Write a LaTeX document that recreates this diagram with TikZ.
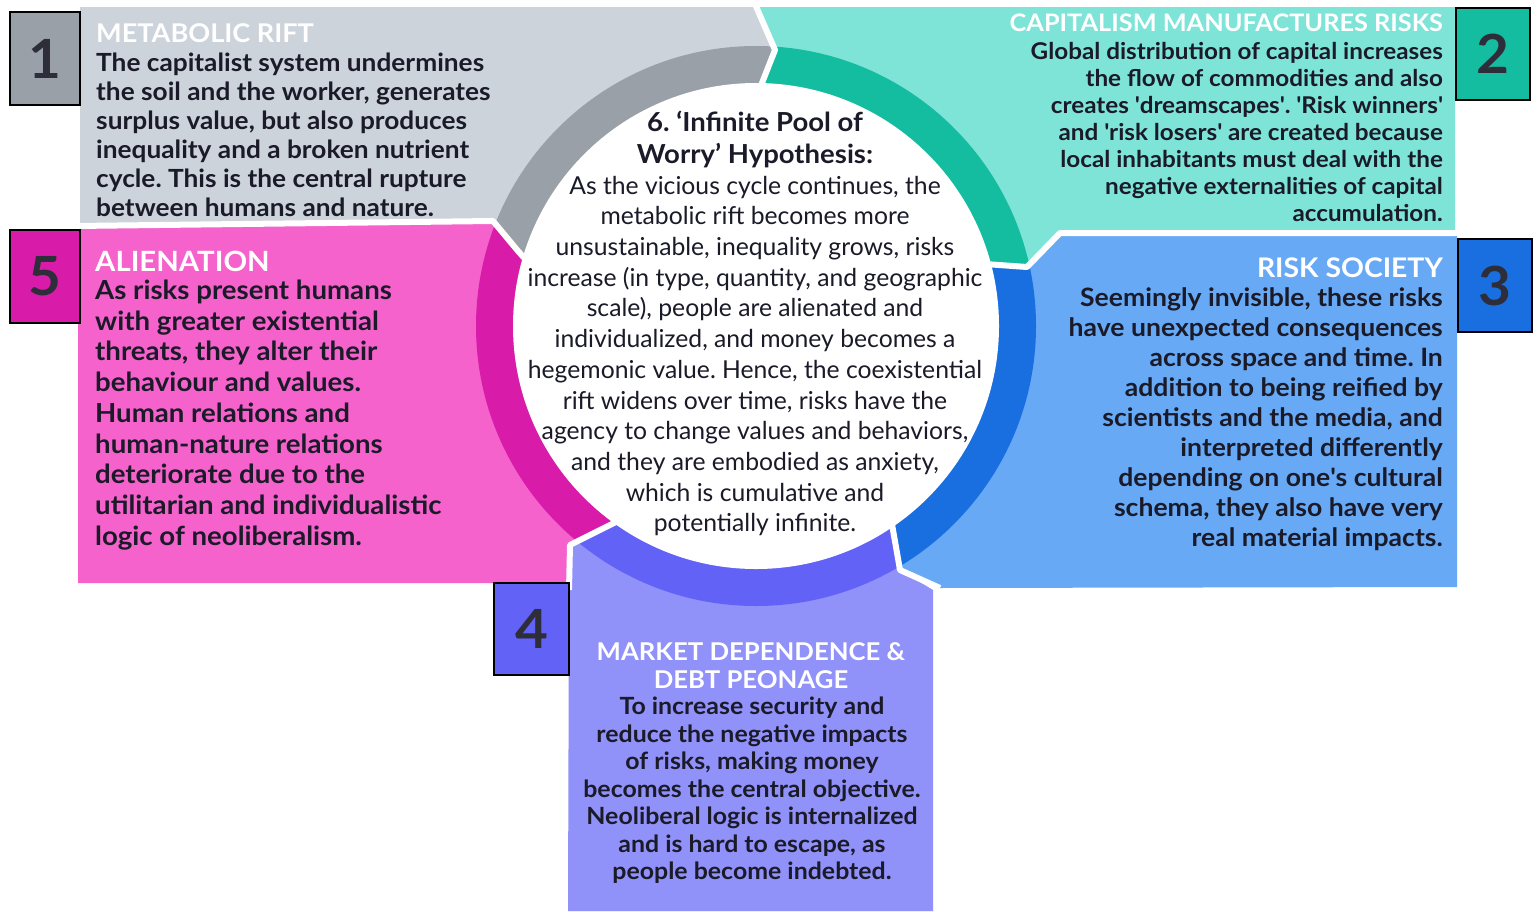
\documentclass[tikz,border=0pt]{standalone}
\usepackage{fontspec}
\setmainfont{Lato}
\newfontfamily\wfont[FakeStretch=1.05]{Lato}
\definecolor{grayP}{HTML}{CDD3DA}
\definecolor{grayR}{HTML}{9AA0A8}
\definecolor{tealP}{HTML}{7EE4D8}
\definecolor{tealR}{HTML}{14BCA0}
\definecolor{blueP}{HTML}{67A9F5}
\definecolor{blueR}{HTML}{1A6FE0}
\definecolor{purpP}{HTML}{9191FA}
\definecolor{purpR}{HTML}{6262F7}
\definecolor{magP}{HTML}{F562CC}
\definecolor{magR}{HTML}{D81BA8}
\definecolor{ink}{HTML}{1A1A28}
\definecolor{numink}{HTML}{2E2E3A}
\newcommand{\sqt}{\textquotesingle}
\newcommand{\fz}[2]{\fontsize{#1}{#2}\selectfont}
\frenchspacing
\begin{document}
\frenchspacing
\begin{tikzpicture}[x=1pt,y=-1pt,
  sep/.style={draw=white,line width=6pt,line join=round},
  numbox/.style={draw=black,line width=2.5pt,inner sep=0pt,text=numink,
    font=\wfont\fontsize{54}{54}\selectfont\bfseries},
  ttl/.style={inner sep=0pt,text=white},
  body/.style={inner sep=0pt,text=ink}
]
\useasboundingbox (0,0) rectangle (1539,911);
\fill[white] (0,0) rectangle (1539,911);
\coordinate (C) at (756,326);
% panels
\fill[grayP] (80,7) -- (755,7) -- (775,50) -- (762,83) -- (C) -- (518,251) -- (493,221) -- (80,226) -- cycle;
\fill[tealP] (755,7) -- (1455,7) -- (1455,233) -- (1060,233) -- (1027,267) -- (996,265) -- (C) -- (762,83) -- (775,50) -- cycle;
\fill[blueP] (C) -- (996,265) -- (1027,267) -- (1060,233) -- (1457,233) -- (1457,587) -- (937,588) -- (900,570) -- (893,530) -- cycle;
\fill[purpP] (C) -- (893,530) -- (900,570) -- (933,590) -- (933,911) -- (568,911) -- (569,583) -- (570,545) -- (608,526) -- cycle;
\fill[magP] (78,226) -- (493,221) -- (518,251) -- (C) -- (608,526) -- (570,545) -- (569,583) -- (78,583) -- cycle;
% ring
\begin{scope}
\clip (C) circle[radius=280pt];
\fill[grayR] (80,7) -- (755,7) -- (775,50) -- (762,83) -- (C) -- (518,251) -- (493,221) -- (80,226) -- cycle;
\fill[tealR] (755,7) -- (1455,7) -- (1455,233) -- (1060,233) -- (1027,267) -- (996,265) -- (C) -- (762,83) -- (775,50) -- cycle;
\fill[blueR] (C) -- (996,265) -- (1027,267) -- (1060,233) -- (1457,233) -- (1457,587) -- (937,588) -- (900,570) -- (893,530) -- cycle;
\fill[purpR] (C) -- (893,530) -- (900,570) -- (933,590) -- (933,911) -- (568,911) -- (569,583) -- (570,545) -- (608,526) -- cycle;
\fill[magR] (78,226) -- (493,221) -- (518,251) -- (C) -- (608,526) -- (570,545) -- (569,583) -- (78,583) -- cycle;
\end{scope}
% separators
\draw[sep] (755,4) -- (775,50) -- (762,83) -- (759,95);
\draw[sep] (1462,233) -- (1060,233) -- (1027,267) -- (985,264);
\draw[sep] (940,588) -- (900,570) -- (893,530) -- (891,518);
\draw[sep] (569,590) -- (570,545) -- (608,526) -- (618,521);
\draw[sep] (75,226) -- (493,221) -- (518,251) -- (526,260);
% centre
\fill[white] (C) circle[radius=243pt];
% number boxes
\node[numbox,fill=grayR,minimum width=70pt,minimum height=93pt] (n1) at (45,58.5) {1};
\node[numbox,fill=tealR,minimum width=74pt,minimum height=92pt] (n2) at (1493,54) {2};
\node[numbox,fill=blueR,minimum width=74pt,minimum height=93pt] (n3) at (1495,285.5) {3};
\node[numbox,fill=purpR,minimum width=75pt,minimum height=92pt] (n4) at (531.5,629) {4};
\node[numbox,fill=magR,minimum width=70pt,minimum height=93pt] (n5) at (45,276.5) {5};
% panel 1
\node[ttl,anchor=west,font=\wfont\fz{25.8}{30}\bfseries] (t1) at (96,33) {METABOLIC RIFT};
\node[body,anchor=west,align=left,font=\wfont\fz{25}{29}\bfseries] (b1) at (96,134.5) {The capitalist system undermines\\the soil and the worker, generates\\surplus value, but also produces\\inequality and a broken nutrient\\cycle. This is the central rupture\\between humans and nature.};
% panel 2
\node[ttl,anchor=east,font=\wfont\fz{24.1}{28}\bfseries] (t2) at (1443,23) {CAPITALISM MANUFACTURES RISKS};
\node[body,anchor=east,align=right,font=\wfont\fz{23.1}{27}\bfseries] (b2) at (1443,132) {Global distribution of capital increases\\the flow of commodities and also\\creates \sqt dreamscapes\sqt. \sqt Risk winners\sqt\\and \sqt risk losers\sqt\ are created because\\local inhabitants must deal with the\\negative externalities of capital\\accumulation.};
% panel 3
\node[ttl,anchor=east,font=\wfont\fz{27}{30}\bfseries] (t3) at (1443,268) {RISK SOCIETY};
\node[body,anchor=east,align=right,font=\wfont\fz{25.3}{30}\bfseries] (b3) at (1443,419) {Seemingly invisible, these risks\\have unexpected consequences\\across space and time. In\\addition to being reified by\\scientists and the media, and\\interpreted differently\\depending on one\sqt s cultural\\schema, they also have very\\real material impacts.};
% panel 5
\node[ttl,anchor=west,font=\wfont\fz{27.9}{30}\bfseries] (t5) at (95,261) {ALIENATION};
\node[body,anchor=west,align=left,font=\wfont\fz{26.3}{30.75}\bfseries] (b5) at (95,415) {As risks present humans\\with greater existential\\threats, they alter their\\behaviour and values.\\Human relations and\\human-nature relations\\deteriorate due to the\\utilitarian and individualistic\\logic of neoliberalism.};
% panel 4
\node[ttl,align=center,font=\wfont\fz{24.5}{28}\bfseries] (t4) at (751,666) {MARKET DEPENDENCE \&\\DEBT PEONAGE};
\node[body,align=center,font=\wfont\fz{23.7}{27.5}\bfseries] (b4) at (752,790.5) {To increase security and\\reduce the negative impacts\\of risks, making money\\becomes the central objective.\\Neoliberal logic is internalized\\and is hard to escape, as\\people become indebted.};
% centre
\node[body,align=center,font=\wfont\fz{26.2}{32}\bfseries] (t6) at (755,139) {6. ‘Infinite Pool of\\Worry’ Hypothesis:};
\node[body,align=center,font=\fz{24.7}{30.7}] (b6) at (755,356) {As the vicious cycle continues, the\\metabolic rift becomes more\\unsustainable, inequality grows, risks\\increase (in type, quantity, and geographic\\scale), people are alienated and\\individualized, and money becomes a\\hegemonic value. Hence, the coexistential\\rift widens over time, risks have the\\agency to change values and behaviors,\\and they are embodied as anxiety,\\which is cumulative and\\potentially infinite.};
\end{tikzpicture}
\end{document}
